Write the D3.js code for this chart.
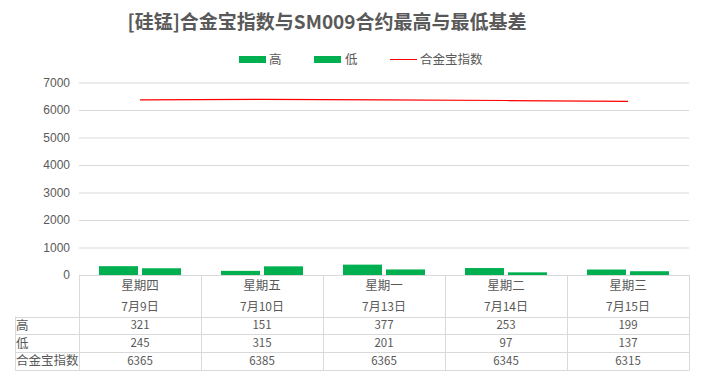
<!DOCTYPE html>
<html>
<head>
<meta charset="utf-8">
<script src="https://cdn.jsdelivr.net/npm/d3@7"></script>
<style>
  body { margin: 0; background: #fff; }
  svg { display: block; font-family: "Noto Sans CJK SC", "Noto Sans", sans-serif; }
</style>
</head>
<body>
<script>
const w = 704;
const h = 383;

const weekdays = ["星期四", "星期五", "星期一", "星期二", "星期三"];
const dates = ["7月9日", "7月10日", "7月13日", "7月14日", "7月15日"];
const high = [321, 151, 377, 253, 199];
const low = [245, 315, 201, 97, 137];
const indexVals = [6365, 6385, 6365, 6345, 6315];
const seriesNames = ["高", "低"];
const yTicks = [0, 1000, 2000, 3000, 4000, 5000, 6000, 7000];

const green = "#00b050";
const grey = "#595959";
const gridColor = "#d9d9d9";

const plotLeft = 79, plotRight = 689, plotTop = 82.5, plotBottom = 275;

const svg = d3.select("body").append("svg").attr("width", w).attr("height", h);

svg.append("text")
  .attr("x", 327).attr("y", 29)
  .attr("text-anchor", "middle")
  .attr("font-size", 19).attr("font-weight", "bold")
  .attr("fill", grey)
  .text("[硅锰]合金宝指数与SM009合约最高与最低基差");

// legend
const legend = svg.append("g").attr("font-size", 12.5).attr("fill", grey);
legend.append("rect").attr("x", 239).attr("y", 56).attr("width", 27).attr("height", 7).attr("fill", green);
legend.append("text").attr("x", 269).attr("y", 64).text(seriesNames[0]);
legend.append("rect").attr("x", 314).attr("y", 56).attr("width", 27).attr("height", 7).attr("fill", green);
legend.append("text").attr("x", 345).attr("y", 64).text(seriesNames[1]);
legend.append("line").attr("x1", 390).attr("x2", 417).attr("y1", 59.5).attr("y2", 59.5)
  .attr("stroke", "#ff0000").attr("stroke-width", 1);
legend.append("text").attr("x", 420).attr("y", 64).text("合金宝指数");

const x = d3.scaleBand().domain(d3.range(weekdays.length)).range([plotLeft, plotRight]);
const xs = d3.scaleBand().domain([0, 1]).range([0, x.bandwidth()])
  .paddingInner(4 / 43).paddingOuter(20 / 43);
const y = d3.scaleLinear().domain([0, 7000]).range([plotBottom, plotTop]);

// grid + y labels
const yAxis = d3.axisLeft(y).tickValues(yTicks).tickFormat(d3.format("d"))
  .tickSize(-(plotRight - plotLeft)).tickPadding(9);
const yg = svg.append("g").attr("transform", `translate(${plotLeft},0)`).call(yAxis);
yg.select(".domain").remove();
yg.selectAll(".tick line").attr("stroke", gridColor);
yg.selectAll(".tick text").attr("fill", grey).attr("font-size", 12);

// bars
[high, low].forEach((vals, s) => {
  svg.append("g").selectAll("rect").data(vals).join("rect")
    .attr("x", (d, i) => x(i) + xs(s))
    .attr("width", xs.bandwidth())
    .attr("y", d => y(d))
    .attr("height", d => plotBottom - y(d))
    .attr("fill", green);
});

// index line
svg.append("path")
  .datum(indexVals)
  .attr("fill", "none")
  .attr("stroke", "#ff0000")
  .attr("stroke-width", 1.2)
  .attr("d", d3.line().x((d, i) => x(i) + x.bandwidth() / 2).y(d => y(d)));

// data table
const rowTop = 316.5, rowH = 17.7, labelLeft = 15;
const rows = [
  { name: "高", vals: high },
  { name: "低", vals: low },
  { name: "合金宝指数", vals: indexVals },
];
const table = svg.append("g").attr("fill", grey);
const tableBottom = rowTop + rows.length * rowH;

const borders = table.append("g").attr("stroke", gridColor).attr("stroke-width", 1).attr("fill", "none");
borders.append("line").attr("x1", plotLeft).attr("x2", plotRight).attr("y1", plotBottom + 0.5).attr("y2", plotBottom + 0.5);
for (let r = 0; r <= rows.length; r++) {
  const yy = Math.round(rowTop + r * rowH) + 0.5;
  borders.append("line").attr("x1", labelLeft).attr("x2", plotRight).attr("y1", yy).attr("y2", yy);
}
borders.append("line").attr("x1", labelLeft + 0.5).attr("x2", labelLeft + 0.5)
  .attr("y1", rowTop).attr("y2", tableBottom + 1);
d3.range(weekdays.length + 1).forEach(i => {
  const xx = Math.round(i < weekdays.length ? x(i) : plotRight) + 0.5;
  borders.append("line").attr("x1", xx).attr("x2", xx).attr("y1", plotBottom).attr("y2", tableBottom + 1);
});

// category labels
weekdays.forEach((d, i) => {
  const cx = x(i) + x.bandwidth() / 2;
  table.append("text").attr("x", cx).attr("y", 290).attr("text-anchor", "middle")
    .attr("font-size", 12.5).text(d);
  table.append("text").attr("x", cx).attr("y", 311).attr("text-anchor", "middle")
    .attr("font-size", 12).text(dates[i]);
});

rows.forEach((row, r) => {
  const cy = rowTop + r * rowH + rowH / 2 + 4;
  table.append("text").attr("x", labelLeft + 1).attr("y", cy + 0.5).attr("font-size", 12.5).text(row.name);
  row.vals.forEach((v, i) => {
    table.append("text").attr("x", x(i) + x.bandwidth() / 2).attr("y", cy)
      .attr("text-anchor", "middle").attr("font-size", 11.5).text(v);
  });
});
</script>
</body>
</html>
